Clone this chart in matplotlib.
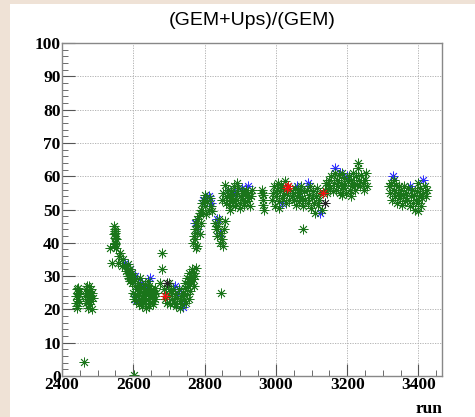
import numpy as np
import matplotlib
matplotlib.use("Agg")
import matplotlib.pyplot as plt
from matplotlib.patches import Rectangle
from matplotlib.ticker import MultipleLocator

# ratio per run, split by category
green_run = [2438, 2440, 2441, 2443, 2444, 2445, 2447, 2448, 2442, 2446,
             2465, 2467, 2468, 2470, 2471, 2472, 2474, 2475, 2477, 2478, 2480, 2481, 2483, 2484, 2486, 2476,
             2463, 2601,
             2546, 2548, 2550, 2547, 2549, 2551, 2548, 2550, 2546, 2552, 2549,
             2535, 2540, 2563, 2557, 2568, 2560, 2572,
             2578, 2580, 2582, 2584, 2586, 2588, 2590, 2592, 2594, 2596, 2598, 2585, 2591, 2596,
             2600, 2602, 2604, 2606, 2608, 2610, 2612, 2614, 2616, 2618, 2620, 2622, 2624, 2626, 2628, 2630,
             2632, 2634, 2636, 2638, 2640, 2642, 2644, 2646, 2648, 2650, 2652, 2654, 2656, 2658, 2660, 2662,
             2664, 2615, 2625, 2635, 2645, 2655, 2605, 2620, 2640,
             2680, 2680, 2675,
             2685, 2688, 2692, 2695, 2698, 2700, 2703, 2706, 2709, 2712, 2715, 2718, 2721, 2724, 2727, 2730,
             2733, 2736, 2739, 2742, 2745, 2748, 2751, 2754, 2757, 2760, 2700, 2730,
             2745, 2750, 2755, 2758, 2762, 2765, 2768, 2771, 2774, 2777, 2760, 2770,
             2768, 2770, 2772, 2774, 2776, 2778, 2780, 2782, 2784, 2786, 2788, 2790, 2775, 2779,
             2790, 2793, 2796, 2799, 2802, 2805, 2808, 2811, 2814, 2817, 2820, 2800,
             2830, 2833, 2836, 2839, 2842, 2845, 2848, 2851, 2854, 2857, 2840,
             2845,
             2850, 2853, 2856, 2859, 2862, 2865, 2868, 2871, 2874, 2877, 2880, 2883, 2886, 2889, 2892, 2895,
             2898, 2901, 2904, 2907, 2910, 2913, 2916, 2919, 2922, 2925, 2928, 2931, 2934, 2870, 2900, 2890,
             2962, 2964, 2963, 2965, 2966, 2961,
             2990, 2993, 2996, 2999, 3002, 3005, 3008, 3011, 3014, 3017, 3020, 3023, 3026, 3029, 3032, 3035,
             3038, 3041, 3044, 2998, 3010,
             3047, 3050, 3053, 3056, 3059, 3062, 3065, 3068, 3071, 3074, 3077, 3080, 3083, 3086, 3089, 3092,
             3095, 3098, 3101, 3104, 3107, 3110, 3113, 3116, 3119, 3122, 3125, 3128,
             3076,
             3138, 3141, 3144, 3147, 3150, 3153, 3156, 3159, 3162, 3165, 3168, 3171, 3174, 3177, 3180, 3183,
             3186, 3189, 3192, 3195, 3198, 3201, 3204, 3207, 3210, 3213, 3216, 3219, 3222, 3225, 3228, 3231,
             3234, 3237, 3240, 3243, 3246, 3249, 3252, 3255, 3185, 3210, 3230,
             3318, 3321, 3324, 3327, 3330, 3333, 3336, 3339, 3342, 3345, 3348, 3351, 3354, 3357, 3360, 3363,
             3366, 3369, 3372, 3375, 3378, 3381, 3384, 3387, 3390, 3393, 3396, 3399, 3402, 3405, 3408, 3411,
             3414, 3417, 3420, 3423, 3398, 3330, 3400]
green_val = [22, 24, 26, 21, 23, 25, 22.5, 24.5, 20.5, 26.5,
             24, 26, 22, 25, 27, 20.5, 23, 25.5, 21.5, 24, 26, 22.5, 25, 20, 23.5, 27,
             4.2, 0.3,
             45, 44, 43, 42.5, 41.5, 41, 40, 39.5, 39, 38.5, 43.5,
             38.4, 34, 37, 34, 33, 36, 35,
             33, 31.5, 32.5, 30, 31, 29.5, 32, 30.5, 29, 31, 30, 33.5, 28.5, 28,
             25, 23, 27, 24.5, 22.5, 26, 24, 28, 23, 25.5, 27, 22, 24, 26.5, 23.5, 25,
             27.5, 22.5, 24.5, 26, 23, 25, 27, 22, 24, 26, 23.5, 25.5, 22.5, 24.5, 26.5, 23,
             25, 21.5, 21, 20.5, 21, 21.5, 29, 29.5, 28.5,
             37, 32, 28,
             26, 23, 25, 22, 27, 24, 21.5, 25.5, 23, 26, 22, 24.5, 21, 23.5, 26, 22.5,
             24, 21.5, 25, 23, 26.5, 22, 24.5, 27, 23, 25.5, 28, 20.5,
             28, 29.5, 31, 28.5, 30, 32, 29, 31, 30, 32.5, 27.5, 27,
             40, 42, 44, 41, 46, 43, 47, 45, 48, 42.5, 49, 46, 38.5, 39,
             50, 52, 49, 53, 51, 48.5, 52.5, 50, 53.5, 51, 49.5, 54.5,
             46, 44, 42, 45, 40, 43, 41, 39, 44, 46.5, 47,
             25,
             53, 55, 57.5, 52, 54, 56, 51.5, 53.5, 55.5, 52.5, 54.5, 57, 51, 53, 55, 56.5,
             52, 54, 55.5, 53, 51.5, 54.5, 56, 52.5, 55, 53.5, 51, 54, 56, 50, 50.5, 58,
             56, 54.5, 53, 51.5, 50, 55,
             53, 55, 57, 54, 56, 58, 52.5, 55.5, 57.5, 53.5, 56.5, 54.5, 58.5, 52, 55, 57,
             53, 56, 54, 51, 50.5,
             55, 53, 56.5, 51.5, 54, 56, 52.5, 55, 57, 53.5, 51, 55.5, 53, 56, 52, 54.5,
             57, 50.5, 53.5, 55.5, 52, 49, 54, 56.5, 51.5, 53, 55, 50,
             44,
             56, 58, 55, 57.5, 59, 56.5, 60, 55.5, 58, 61, 56, 59, 57, 60.5, 55, 58,
             61, 56.5, 59.5, 57.5, 55, 58.5, 60, 56, 59, 57, 61, 58, 56, 60, 57.5, 62.5,
             59, 57, 60.5, 58, 56, 59, 61, 57, 54.5, 54, 64,
             57, 55, 58, 53, 56, 54, 57.5, 52, 55, 57, 53.5, 56, 51.5, 54.5, 57, 52.5,
             55, 53, 56.5, 51, 54, 56, 52, 54.5, 50, 53, 55.5, 52, 54, 56.5, 51, 53.5,
             55, 57, 54, 56, 49.5, 59, 58]

blue_run = [2577, 2590, 2605, 2610, 2624, 2635, 2647, 2605, 2717, 2725, 2740,
            2773, 2778, 2795, 2812, 2818, 2835, 2843, 2865, 2885, 2905, 2922,
            3017, 3060, 3070, 3090, 3124, 3166, 3180, 3199, 3329, 3376, 3413]
blue_val = [34, 32, 23, 27, 28, 26, 29.4, 30, 27, 25, 20.7,
            46, 44, 53, 54, 52, 47, 43, 56, 55, 56.5, 57,
            52, 57, 56, 58, 49, 62.5, 61, 60, 60, 57, 59]

red_run = [2689, 3031, 3035, 3132]
red_val = [24, 56.5, 57, 55]

black_run = [2694, 3138]
black_val = [28, 52]

fig = plt.figure(figsize=(4.75, 4.17), dpi=100)
fig.patch.set_facecolor("white")
# beige canvas edges
fig.patches.append(Rectangle((0, 0), 10 / 475, 1, transform=fig.transFigure,
                             facecolor="#efe2d6", edgecolor="none", zorder=-10))
fig.patches.append(Rectangle((0, 1 - 4 / 417), 1, 4 / 417, transform=fig.transFigure,
                             facecolor="#efe2d6", edgecolor="none", zorder=-10))

ax = fig.add_axes([62 / 475, 41 / 417, 380 / 475, 333 / 417])

star = (8, 2, 0)
kw = dict(linestyle="none", marker=star, markersize=7, markeredgewidth=0.6)
ax.plot(blue_run, blue_val, color="#3030ff", **kw)
ax.plot(green_run, green_val, color="#1a751a", **kw)
ax.plot(red_run, red_val, color="#ee1111", **kw)
ax.plot(black_run, black_val, color="#222222", **kw)

ax.set_xlim(2400, 3466)
ax.set_ylim(0, 100)
ax.xaxis.set_major_locator(MultipleLocator(200))
ax.xaxis.set_minor_locator(MultipleLocator(50))
ax.yaxis.set_major_locator(MultipleLocator(10))
ax.yaxis.set_minor_locator(MultipleLocator(2))
ax.grid(True, which="major", color="#aaaaaa", linestyle=(0, (1.5, 1.5)), linewidth=0.6)
ax.set_axisbelow(True)

for s in ax.spines.values():
    s.set_color("#888888")
    s.set_linewidth(1.0)
ax.tick_params(which="both", direction="in", top=False, right=False, color="#555555")
ax.tick_params(which="major", length=9, width=0.8, pad=1)
ax.tick_params(which="minor", length=4.5, width=0.6)

tick_font = dict(family="Liberation Serif", weight="bold", size=12.5)
ax.set_xticks([2400, 2600, 2800, 3000, 3200, 3400])
ax.set_xticklabels(["2400", "2600", "2800", "3000", "3200", "3400"], **tick_font)
ax.set_yticks(range(0, 101, 10))
ax.set_yticklabels([str(v) for v in range(0, 101, 10)], **tick_font)

ax.set_title("(GEM+Ups)/(GEM)", family="Liberation Sans", fontsize=14, pad=13)
ax.text(1.0, -0.075, "run", transform=ax.transAxes, ha="right", va="top", **tick_font)

fig.savefig("out.png", dpi=100)
